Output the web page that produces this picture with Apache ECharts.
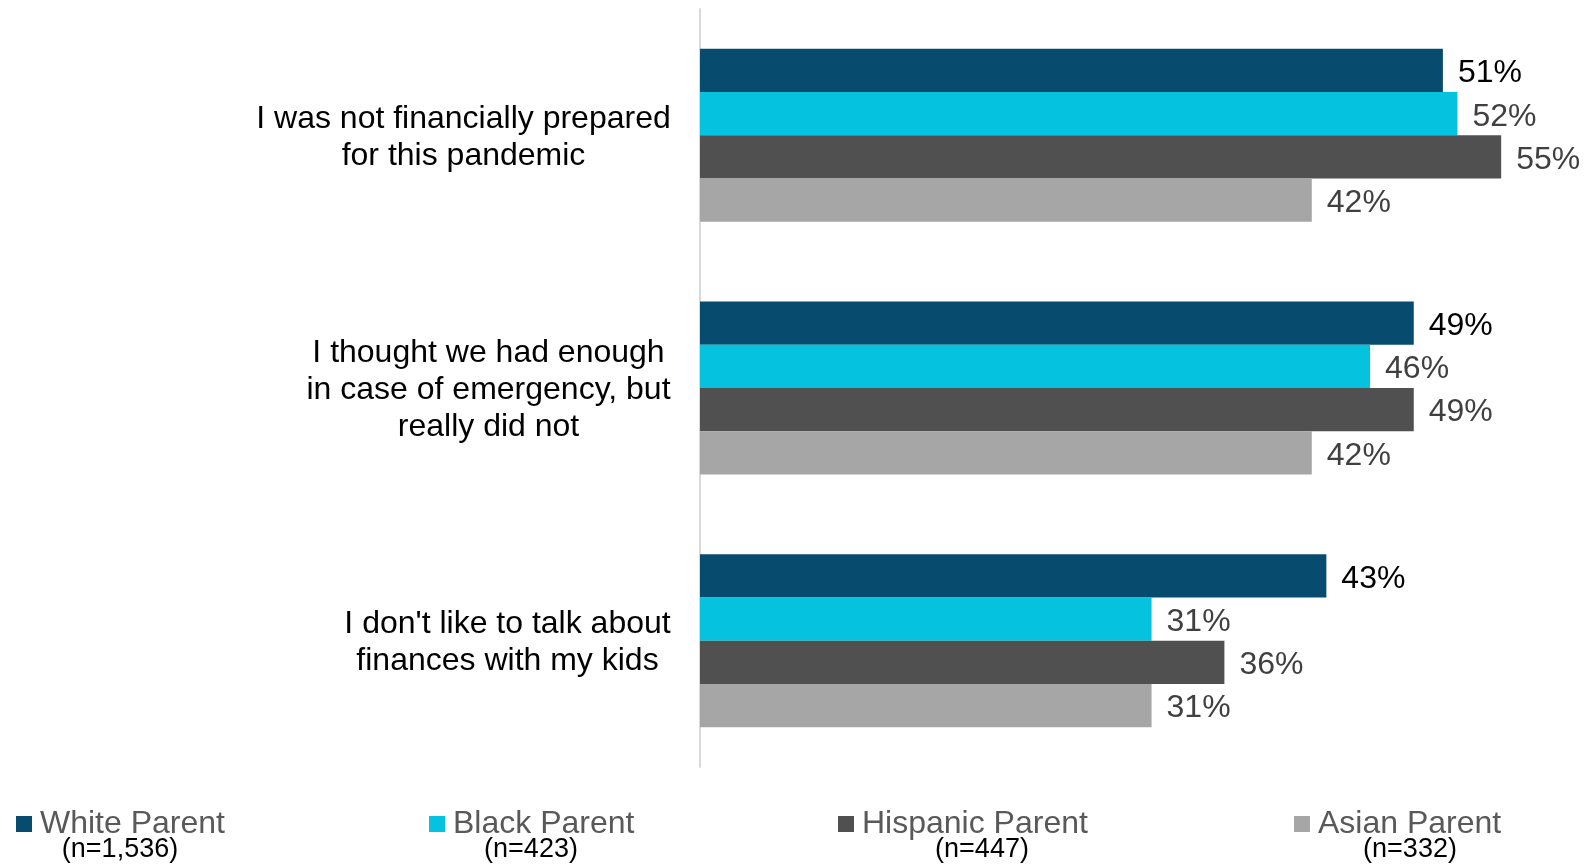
<!DOCTYPE html>
<html>
<head>
<meta charset="utf-8">
<script src="https://cdn.jsdelivr.net/npm/echarts@6/dist/echarts.min.js"></script>
<style>
html,body{margin:0;padding:0;background:#fff;}
#chart{width:1588px;height:864px;}
</style>
</head>
<body>
<div id="chart"></div>
<script>
// ---- data ----
const categories = [
  'I was not financially prepared\nfor this pandemic',
  'I thought we had enough\nin case of emergency, but\nreally did not',
  "I don't like to talk about\nfinances with my kids"
];
const seriesNames = ['White Parent', 'Black Parent', 'Hispanic Parent', 'Asian Parent'];
const sampleSizes = ['(n=1,536)', '(n=423)', '(n=447)', '(n=332)'];
const whiteParent = [51, 49, 43];
const blackParent = [52, 46, 31];
const hispanicParent = [55, 49, 36];
const asianParent = [42, 42, 31];

// ---- style / layout ----
const FONT = '"Liberation Sans", Arial, sans-serif';
const colors = ['#074C6E', '#05C3DE', '#505050', '#A6A6A6'];
const labelColors = ['#000000', '#404040', '#404040', '#404040'];
const legendMarkerX = [16, 429, 838, 1294];
const sampleCenterX = [120, 531, 982, 1410];
const catFontSize = 32;

const seriesData = [whiteParent, blackParent, hispanicParent, asianParent];

// measure widest line of each category label so lines can be centered among themselves
const cv = document.createElement('canvas').getContext('2d');
cv.font = catFontSize + 'px "Liberation Sans", Arial, sans-serif';
const rich = {};
categories.forEach((c, i) => {
  const w = Math.max(...c.split('\n').map(l => cv.measureText(l).width));
  rich['c' + i] = { width: Math.ceil(w), align: 'center', fontSize: catFontSize, lineHeight: 37, color: '#000', fontFamily: FONT };
});

const chart = echarts.init(document.getElementById('chart'));
const option = {
  animation: false,
  backgroundColor: '#fff',
  textStyle: { fontFamily: FONT },
  grid: { left: 700, right: 14, top: 9, bottom: 97, containLabel: false },
  xAxis: { type: 'value', min: 0, max: 60, show: false },
  yAxis: {
    type: 'category',
    data: categories,
    inverse: true,
    axisLine: { show: true, lineStyle: { color: '#D9D9D9', width: 2 } },
    axisTick: { show: false },
    axisLabel: {
      margin: 29,
      align: 'right',
      padding: [5, 0, 0, 0],
      formatter: (v, idx) => '{c' + idx + '|' + v + '}',
      rich: rich
    }
  },
  legend: seriesNames.map((n, i) => ({
    data: [n],
    left: legendMarkerX[i] - 5,
    top: 803,
    icon: 'rect',
    itemWidth: 16,
    itemHeight: 16,
    selectedMode: false,
    textStyle: { fontSize: 32, color: '#595959', fontFamily: FONT, padding: [0, 0, 0, 3] }
  })),
  graphic: sampleSizes.map((s, i) => ({
    type: 'text',
    x: sampleCenterX[i],
    y: 850,
    style: { text: s, fontSize: 27, fill: '#000', fontFamily: FONT, align: 'center', verticalAlign: 'middle' }
  })),
  series: seriesNames.map((n, i) => ({
    type: 'bar',
    name: n,
    data: seriesData[i],
    barGap: '0%',
    barCategoryGap: '31.5%',
    itemStyle: { color: colors[i] },
    label: {
      show: true,
      position: 'right',
      distance: 15,
      offset: [0, 3],
      formatter: '{c}%',
      fontSize: 32,
      fontFamily: FONT,
      color: labelColors[i]
    }
  }))
};
chart.setOption(option);
</script>
</body>
</html>
